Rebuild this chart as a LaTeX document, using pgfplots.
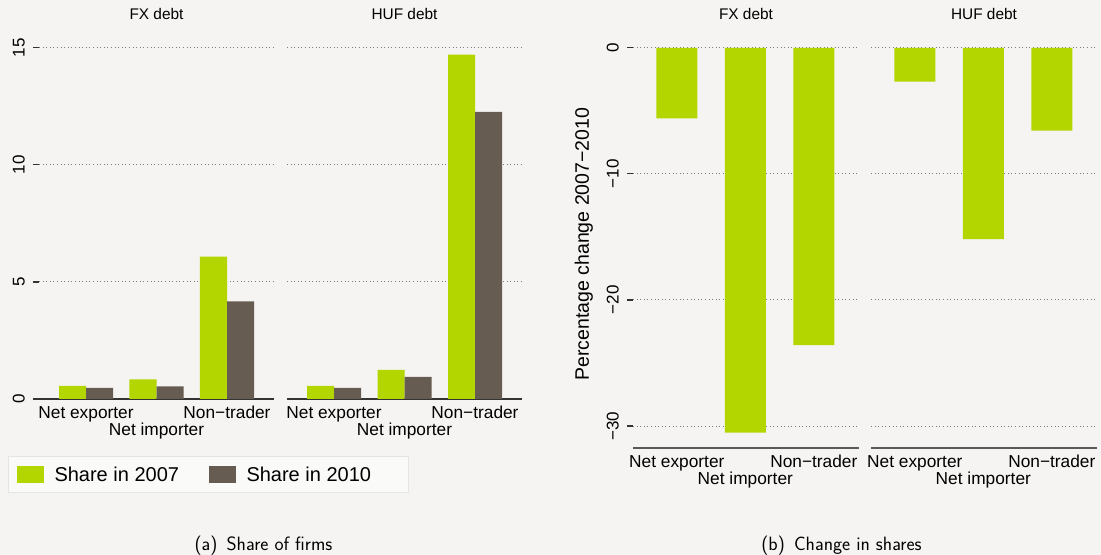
\documentclass[border=0pt]{standalone}
\usepackage{pgfplots}
\pgfplotsset{compat=1.18}
\usepackage{fontspec}
\setmainfont{Liberation Sans}

\definecolor{bg}{RGB}{245,244,242}
\definecolor{cgreen}{RGB}{180,214,0}
\definecolor{cgray}{RGB}{102,92,82}
\definecolor{gridc}{RGB}{125,125,125}
\newcommand\fs[1]{\fontsize{#1bp}{#1bp}\selectfont}

\pgfplotsset{
  panel/.style={
    scale only axis, anchor=south west,
    xmin=0.3333, xmax=3.6667,
    ybar=0pt,
    axis lines*=left,
    y axis line style={draw=none},
    xtick={1,3}, xticklabels={Net exporter,Non−trader},
    extra x ticks={2}, extra x tick labels={Net importer},
    extra x tick style={major tick length=0pt, xticklabel style={yshift=-23bp}},
    xtick style={draw=none},
    xticklabel style={font=\fs{17.3}, anchor=north, inner sep=0pt, yshift=-1bp},
    tick align=outside, major tick length=6bp,
    ytick style={line width=1.2bp, color=black!80},
    yticklabel style={font=\fs{17}, xshift=-8bp, rotate=90, anchor=south, inner sep=0pt},
    ymajorgrids,
    major grid style={dash pattern=on 1bp off 2.6bp, line width=1bp, color=gridc},
    title style={font=\fs{15.4}, at={(axis description cs:0.5,1)}, anchor=base, yshift=15bp, inner sep=0pt},
  },
  share/.style={panel, width=235bp, height=358.3bp, ymin=0, ymax=15.3,
    bar width=0.383,
    x axis line style={-, line width=1.5bp, color=black!80},
    ytick={0,5,10,15}, yticklabels={0,5,10,15}},
  change/.style={panel, width=226bp, height=407.8bp, ymin=-31.74, ymax=0.6,
    xmin=0.36, xmax=3.66, bar width=0.6,
    x axis line style={-, line width=1.2bp, color=black!65},
    ytick={-30,-20,-10,0}, yticklabels={−30,−20,−10,0}},
  noy/.style={ytick style={draw=none}, yticklabels={}},
}

\begin{document}
\begin{tikzpicture}
\path[use as bounding box] (0,0) rectangle (1101bp,555bp);
\fill[bg] (0,0) rectangle (1101bp,555bp);

% (a) share of firms
\begin{axis}[share, at={(39bp,156bp)}, title={FX debt},
  legend style={at={(axis description cs:-0.1319,-0.1591)}, anchor=north west,
    draw=black!10, line width=1bp, fill=white!55!bg,
    inner xsep=0pt, inner ysep=0pt, column sep=0pt, row sep=0pt,
    nodes={inner sep=0pt, text depth=0pt, text height=14.3bp, font=\fs{20}},
    legend columns=2},
  legend image code/.code={
    \path[fill=none, draw=none] (0bp,-18.3bp) rectangle (46bp,17.7bp);
    \fill[#1, draw=none] (8bp,-8.35bp) rectangle (35.6bp,8.35bp);}]
\addplot[fill=cgreen, draw=none] coordinates {(1,0.56) (2,0.84) (3,6.08)};
\addplot[fill=cgray, draw=none] coordinates {(1,0.47) (2,0.54) (3,4.17)};
\addlegendentry{\makebox[146bp][l]{Share in 2007}}
\addlegendentry{\makebox[162bp][l]{Share in 2010}}
\end{axis}

\begin{axis}[share, noy, at={(287bp,156bp)}, title={HUF debt}]
\addplot[fill=cgreen, draw=none] coordinates {(1,0.56) (2,1.24) (3,14.70)};
\addplot[fill=cgray, draw=none] coordinates {(1,0.48) (2,0.94) (3,12.26)};
\end{axis}

% (b) change in shares
\begin{axis}[change, at={(633bp,107bp)}, title={FX debt},
  ylabel={Percentage change 2007−2010},
  every axis y label/.style={at={(axis description cs:0,0.5)}, xshift=-40bp,
    rotate=90, anchor=south, inner sep=0pt, font=\fs{19.5}}]
\addplot[fill=cgreen, draw=none] coordinates {(1,-5.59) (2,-30.53) (3,-23.58)};
\end{axis}

\begin{axis}[change, noy, at={(871bp,107bp)}, title={HUF debt}]
\addplot[fill=cgreen, draw=none] coordinates {(1,-2.69) (2,-15.17) (3,-6.57)};
\end{axis}

\node[font=\sffamily\fs{19.3}, anchor=base] at (263.5bp,5bp) {(a)\hspace{9.3bp}Share of firms};
\node[font=\sffamily\fs{19.3}, anchor=base] at (841.5bp,5bp) {(b)\hspace{9.3bp}Change in shares};
\end{tikzpicture}
\end{document}
